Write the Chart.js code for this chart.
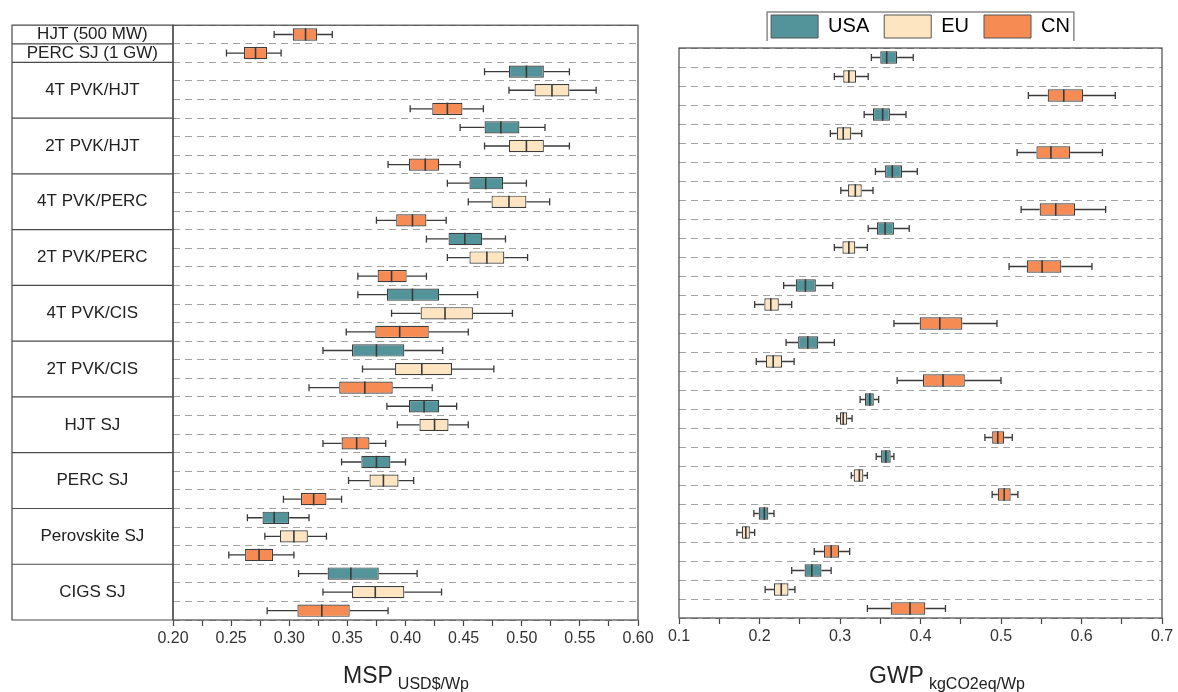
<!DOCTYPE html>
<html>
<head>
<meta charset="utf-8">
<script src="https://cdn.jsdelivr.net/npm/chart.js@4.4.1/dist/chart.umd.min.js"></script>
<style>
  html, body { margin: 0; padding: 0; background: #fff; }
  #wrap { position: relative; width: 1178px; height: 692px; overflow: hidden; font-family: "Liberation Sans", Arial, sans-serif; }
  #mspBox { position: absolute; left: 0; top: 0; width: 660px; height: 692px; }
  #gwpBox { position: absolute; left: 660px; top: 0; width: 518px; height: 692px; }
  .axTitle { position: absolute; font-size: 23px; color: #222; white-space: nowrap; line-height: 1; }
  .axTitle sub { font-size: 16px; vertical-align: -6px; margin-left: 5px; }
</style>
</head>
<body>
<div id="wrap">
  <div id="mspBox"><canvas id="mspChart"></canvas></div>
  <div id="gwpBox"><canvas id="gwpChart"></canvas></div>
  <div class="axTitle" style="left:343px; top:664px">MSP<sub>USD$/Wp</sub></div>
  <div class="axTitle" style="left:869px; top:664px">GWP<sub>kgCO2eq/Wp</sub></div>
</div>
<script>
const technologies = ['4T PVK/HJT', '2T PVK/HJT', '4T PVK/PERC', '2T PVK/PERC', '4T PVK/CIS',
    '2T PVK/CIS', 'HJT SJ', 'PERC SJ', 'Perovskite SJ', 'CIGS SJ'];
const regions = ['USA', 'EU', 'CN'];
const regionColors = ['#52949a', '#fde5c2', '#f68c53'];

const mspTicks = [0.20, 0.25, 0.30, 0.35, 0.40, 0.45, 0.50, 0.55, 0.60];
const gwpTicks = [0.1, 0.2, 0.3, 0.4, 0.5, 0.6, 0.7];

// each entry: [min, q1, median, q3, max]
const referenceLabels = ['HJT (500 MW)', 'PERC SJ (1 GW)'];
const mspReference = [
    [0.287, 0.303, 0.314, 0.324, 0.337],
    [0.246, 0.261, 0.271, 0.281, 0.293]
];

// MSP, USD$/Wp
const mspUSA = [
    [0.468, 0.489, 0.504, 0.519, 0.541],
    [0.447, 0.468, 0.482, 0.498, 0.520],
    [0.436, 0.455, 0.469, 0.484, 0.504],
    [0.418, 0.437, 0.451, 0.466, 0.486],
    [0.359, 0.384, 0.406, 0.429, 0.462],
    [0.329, 0.354, 0.375, 0.399, 0.432],
    [0.384, 0.403, 0.416, 0.429, 0.444],
    [0.345, 0.362, 0.375, 0.387, 0.400],
    [0.264, 0.277, 0.287, 0.300, 0.317],
    [0.308, 0.333, 0.353, 0.377, 0.410]
];
const mspEU = [
    [0.489, 0.511, 0.526, 0.541, 0.564],
    [0.468, 0.489, 0.504, 0.519, 0.541],
    [0.454, 0.474, 0.489, 0.504, 0.524],
    [0.436, 0.455, 0.470, 0.485, 0.505],
    [0.388, 0.413, 0.434, 0.458, 0.492],
    [0.363, 0.391, 0.414, 0.440, 0.476],
    [0.393, 0.412, 0.425, 0.437, 0.454],
    [0.351, 0.369, 0.381, 0.394, 0.407],
    [0.279, 0.292, 0.304, 0.316, 0.332],
    [0.329, 0.354, 0.374, 0.399, 0.431]
];
const mspCN = [
    [0.404, 0.423, 0.436, 0.449, 0.467],
    [0.385, 0.403, 0.417, 0.429, 0.447],
    [0.375, 0.392, 0.406, 0.418, 0.435],
    [0.359, 0.376, 0.388, 0.401, 0.418],
    [0.349, 0.374, 0.395, 0.420, 0.454],
    [0.317, 0.343, 0.365, 0.389, 0.423],
    [0.329, 0.345, 0.358, 0.369, 0.383],
    [0.295, 0.310, 0.321, 0.332, 0.345],
    [0.248, 0.262, 0.274, 0.286, 0.304],
    [0.281, 0.307, 0.328, 0.352, 0.385]
];

// GWP, kgCO2eq/Wp
const gwpUSA = [
    [0.339, 0.350, 0.358, 0.371, 0.391],
    [0.330, 0.341, 0.353, 0.362, 0.382],
    [0.344, 0.356, 0.365, 0.377, 0.396],
    [0.335, 0.346, 0.356, 0.367, 0.386],
    [0.230, 0.245, 0.257, 0.270, 0.291],
    [0.233, 0.248, 0.260, 0.273, 0.293],
    [0.325, 0.331, 0.337, 0.342, 0.348],
    [0.345, 0.351, 0.357, 0.363, 0.367],
    [0.193, 0.199, 0.206, 0.211, 0.218],
    [0.240, 0.256, 0.265, 0.277, 0.289]
];
const gwpEU = [
    [0.293, 0.304, 0.311, 0.320, 0.335],
    [0.288, 0.296, 0.304, 0.314, 0.327],
    [0.301, 0.310, 0.319, 0.327, 0.341],
    [0.293, 0.303, 0.311, 0.319, 0.334],
    [0.194, 0.206, 0.214, 0.224, 0.240],
    [0.196, 0.208, 0.217, 0.228, 0.243],
    [0.296, 0.300, 0.304, 0.309, 0.315],
    [0.314, 0.317, 0.324, 0.329, 0.334],
    [0.172, 0.178, 0.183, 0.188, 0.194],
    [0.207, 0.218, 0.227, 0.236, 0.244]
];
const gwpCN = [
    [0.534, 0.558, 0.578, 0.602, 0.642],
    [0.520, 0.544, 0.562, 0.586, 0.626],
    [0.525, 0.548, 0.568, 0.592, 0.630],
    [0.510, 0.532, 0.551, 0.575, 0.613],
    [0.367, 0.399, 0.424, 0.452, 0.495],
    [0.371, 0.403, 0.428, 0.455, 0.500],
    [0.480, 0.489, 0.496, 0.504, 0.514],
    [0.489, 0.496, 0.504, 0.512, 0.521],
    [0.268, 0.280, 0.289, 0.299, 0.312],
    [0.334, 0.363, 0.387, 0.406, 0.431]
];

Chart.defaults.font.family = '"Liberation Sans", Arial, sans-serif';
Chart.defaults.color = '#222';

const BAR_PCT = 0.66;

// one row per box, top to bottom
function buildRows(byRegion, refLabels, refStats) {
    const rows = [];
    refLabels.forEach((lab, i) => rows.push({ label: lab, region: 2, stats: refStats[i], groupStart: true }));
    technologies.forEach((tech, t) => {
        regions.forEach((r, k) => rows.push({
            label: k === 1 ? tech : '',
            region: k,
            stats: byRegion[k][t],
            groupStart: k === 0
        }));
    });
    return rows;
}

function boxDatasets(rows) {
    return regions.map((r, k) => ({
        label: r,
        data: rows.map(row => row.region === k ? [row.stats[1], row.stats[3]] : null),
        backgroundColor: regionColors[k],
        borderColor: '#3c3c3c',
        borderWidth: 1.2,
        borderSkipped: false,
        grouped: false,
        barPercentage: BAR_PCT,
        categoryPercentage: 1
    }));
}

// whiskers, caps and median line for each row
const makeWhiskers = (rows) => ({
    id: 'boxWhiskers',
    afterDatasetsDraw(chart) {
        const { ctx } = chart;
        const xs = chart.scales.x, ys = chart.scales.y;
        const step = Math.abs(ys.getPixelForValue(1) - ys.getPixelForValue(0));
        const half = step * BAR_PCT / 2;
        ctx.save();
        ctx.strokeStyle = '#3a3a3a';
        rows.forEach((r, i) => {
            const [mn, q1, md, q3, mx] = r.stats.map(v => xs.getPixelForValue(v));
            const y = ys.getPixelForValue(i);
            ctx.lineWidth = 1.3;
            ctx.beginPath();
            ctx.moveTo(mn, y); ctx.lineTo(q1, y);
            ctx.moveTo(q3, y); ctx.lineTo(mx, y);
            ctx.moveTo(mn, y - 3.5); ctx.lineTo(mn, y + 3.5);
            ctx.moveTo(mx, y - 3.5); ctx.lineTo(mx, y + 3.5);
            ctx.stroke();
            ctx.lineWidth = 1.6;
            ctx.beginPath();
            ctx.moveTo(md, y - half); ctx.lineTo(md, y + half);
            ctx.stroke();
        });
        ctx.restore();
    }
});

// plot frame, plus the label table on the left panel
const makeFrame = (rows, withTable) => ({
    id: 'panelFrame',
    afterDraw(chart) {
        const { ctx, chartArea: a } = chart;
        ctx.save();
        ctx.strokeStyle = '#4a4a4a';
        ctx.lineWidth = 1.2;
        ctx.strokeRect(a.left, a.top, a.right - a.left, a.bottom - a.top);
        if (withTable) {
            const ys = chart.scales.y;
            const x0 = ys.left;
            const step = ys.getPixelForValue(1) - ys.getPixelForValue(0);
            ctx.beginPath();
            ctx.rect(x0, a.top, a.left - x0, a.bottom - a.top);
            rows.forEach((r, i) => {
                if (i > 0 && r.groupStart) {
                    const y = ys.getPixelForValue(i) - step / 2;
                    ctx.moveTo(x0, y); ctx.lineTo(a.left, y);
                }
            });
            ctx.stroke();
        }
        ctx.restore();
    }
});

const legendFrame = {
    id: 'legendFrame',
    afterDraw(chart) {
        const boxes = chart.legend && chart.legend.legendHitBoxes;
        if (!boxes || !boxes.length) return;
        const first = boxes[0], last = boxes[boxes.length - 1];
        const l = first.left - 4, r = last.left + last.width + 4;
        const t = first.top - 3, b = first.top + first.height + 3;
        const { ctx } = chart;
        ctx.save();
        ctx.strokeStyle = '#8a8a8a';
        ctx.lineWidth = 1.5;
        ctx.beginPath();
        ctx.moveTo(l, b); ctx.lineTo(l, t); ctx.lineTo(r, t); ctx.lineTo(r, b);
        ctx.stroke();
        ctx.restore();
    }
};

function xAxis(majors, decimals) {
    const min = majors[0], max = majors[majors.length - 1];
    return {
        type: 'linear',
        min: min,
        max: max,
        afterBuildTicks: (scale) => {
            const t = [];
            majors.forEach((v, i) => {
                t.push({ value: v, major: true });
                if (i < majors.length - 1) t.push({ value: (v + majors[i + 1]) / 2, major: false });
            });
            scale.ticks = t;
        },
        ticks: {
            autoSkip: false,
            maxRotation: 0,
            padding: 3,
            color: '#333',
            font: { size: 16 },
            callback: (v, i) => (i % 2 === 0 ? Number(v).toFixed(decimals) : '')
        },
        grid: { drawOnChartArea: false, drawTicks: true, tickLength: 6, tickColor: '#444', tickWidth: 1.2 },
        border: { display: false },
        afterFit: (s) => { s.height = 50; }
    };
}

function yAxis(showLabels) {
    return {
        type: 'category',
        offset: true,
        ticks: {
            display: showLabels,
            autoSkip: false,
            crossAlign: 'center',
            padding: 15,
            color: '#222',
            font: { size: 17 }
        },
        grid: { offset: true, drawTicks: false, color: '#a3a3a3', lineWidth: 1 },
        border: { display: false, dash: [7, 5] },
        afterFit: (s) => { s.width = showLabels ? 161 : 0; }
    };
}

document.addEventListener('DOMContentLoaded', () => {
    const mspRows = buildRows([mspUSA, mspEU, mspCN], referenceLabels, mspReference);
    const gwpRows = buildRows([gwpUSA, gwpEU, gwpCN], [], []);

    new Chart(document.getElementById('mspChart'), {
        type: 'bar',
        data: { labels: mspRows.map(r => r.label), datasets: boxDatasets(mspRows) },
        options: {
            indexAxis: 'y',
            responsive: true,
            maintainAspectRatio: false,
            animation: false,
            layout: { padding: { left: 12, top: 13, right: 22, bottom: 22 } },
            plugins: { legend: { display: false }, tooltip: { enabled: false } },
            scales: { x: xAxis(mspTicks, 2), y: yAxis(true) }
        },
        plugins: [makeWhiskers(mspRows), makeFrame(mspRows, true)]
    });

    new Chart(document.getElementById('gwpChart'), {
        type: 'bar',
        data: { labels: gwpRows.map(r => r.label), datasets: boxDatasets(gwpRows) },
        options: {
            indexAxis: 'y',
            responsive: true,
            maintainAspectRatio: false,
            animation: false,
            layout: { padding: { left: 19, top: 0, right: 16, bottom: 24 } },
            plugins: {
                tooltip: { enabled: false },
                legend: {
                    position: 'top',
                    labels: {
                        boxWidth: 47,
                        boxHeight: 23,
                        padding: 15,
                        color: '#222',
                        font: { size: 20 },
                        generateLabels: () => regions.map((r, k) => ({
                            text: r,
                            fillStyle: regionColors[k],
                            strokeStyle: '#555',
                            lineWidth: 1,
                            hidden: false,
                            datasetIndex: k
                        }))
                    }
                }
            },
            scales: { x: xAxis(gwpTicks, 1), y: yAxis(false) }
        },
        plugins: [makeWhiskers(gwpRows), makeFrame(gwpRows, false), legendFrame]
    });
});
</script>
</body>
</html>
